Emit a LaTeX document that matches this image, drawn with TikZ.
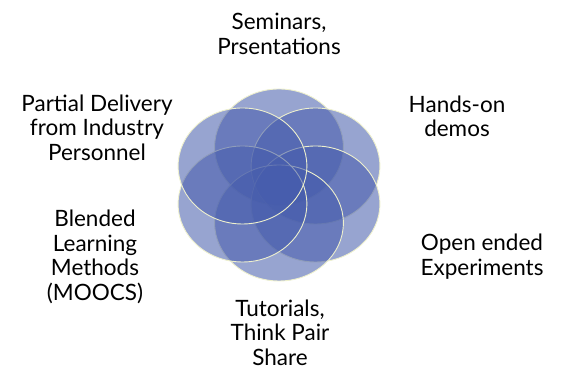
\documentclass[tikz,border=0pt]{standalone}
\usepackage{fontspec}
\setmainfont{Lato}
\definecolor{petalblue}{RGB}{70,92,172}
\definecolor{petalrim}{RGB}{238,240,205}

\begin{document}
\begin{tikzpicture}[x=1pt,y=1pt,
  petal/.style={fill=petalblue,fill opacity=0.56,draw=petalrim,line width=0.9pt},
  lbl/.style={align=center,inner sep=0pt,font=\fontsize{22.5}{24.5}\selectfont}]
\useasboundingbox (0,0) rectangle (563,371);
% the six petals
\begin{scope}[shift={(279,186)},xscale=1.11]
\draw[petal] (0,38) circle (58);
\draw[petal] (32.9,19) circle (58);
\draw[petal] (32.9,-19) circle (58);
\draw[petal] (0,-38) circle (58);
\draw[petal] (-32.9,-19) circle (58);
\draw[petal] (-32.9,19) circle (58);
\end{scope}
% labels round the flower
\node[lbl] (sem) at (279,337) {Seminars,\\Prsentations};
\node[lbl] (hands) at (457,254.5) {Hands-on\\demos};
\node[lbl] (open) at (482,114.5) {Open ended\\Experiments};
\node[lbl] (tut) at (280,38.5) {Tutorials,\\Think Pair\\Share};
\node[lbl] (blend) at (95,114) {Blended\\Learning\\Methods\\(MOOCS)};
\node[lbl] (part) at (97,243.5) {Partial Delivery\\from Industry\\Personnel};
\end{tikzpicture}
\end{document}
